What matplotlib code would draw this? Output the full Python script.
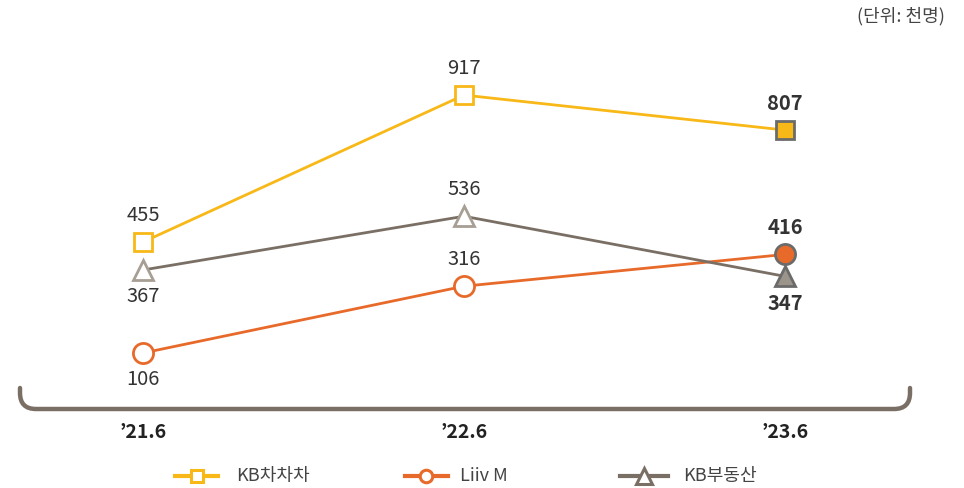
import matplotlib
matplotlib.use("Agg")
import matplotlib.pyplot as plt
from matplotlib.lines import Line2D
from matplotlib.path import Path
from matplotlib.patches import PathPatch

plt.rcParams['font.family'] = ['Noto Sans CJK KR', 'DejaVu Sans']

periods = ["’21.6", "’22.6", "’23.6"]
names = ["KB차차차", "Liiv M", "KB부동산"]
kbchacha = [455, 917, 807]
liivm = [106, 316, 416]
kbland = [367, 536, 347]

YELLOW = "#f8b817"
ORANGE = "#e86a2a"
BROWN = "#7a6f65"
EDGE = "#6b6b6b"
TXT = "#333333"

W, H = 964, 488
fig = plt.figure(figsize=(W / 100, H / 100), dpi=100)
ax = fig.add_axes([0, 0, 1, 1])
ax.set_xlim(-143 / 321, (W - 143) / 321)
ax.set_ylim((386.7 - H) / 0.318, 386.7 / 0.318)
ax.axis("off")

x = list(range(len(periods)))

series = [
    (kbchacha, YELLOW, "s", 13, YELLOW, YELLOW, ["up", "up", "up"]),
    (liivm, ORANGE, "o", 14.5, ORANGE, ORANGE, ["down", "up", "up"]),
    (kbland, BROWN, "^", 15, "#a79e94", "#9b948b", ["down", "up", "down"]),
]

for vals, col, mk, ms, hollow_edge, last_fill, pos in series:
    ax.plot(x, vals, color=col, lw=2, zorder=2)
    ax.plot(x[:-1], vals[:-1], ls="none", marker=mk, ms=ms, mfc="white",
            mec=hollow_edge, mew=2, zorder=3)
    ax.plot(x[-1:], vals[-1:], ls="none", marker=mk, ms=ms, mfc=last_fill,
            mec=EDGE, mew=2, zorder=3)
    for i, v in enumerate(vals):
        off = 27 if pos[i] == "up" else -27
        ax.annotate(str(v), (x[i], v), xytext=(0, off * 0.72), textcoords="offset points",
                    ha="center", va="center", fontsize=14.5, color=TXT,
                    fontweight="bold" if i == len(vals) - 1 else "normal")

# bracket axis
def fx(px):
    return px / W

def fy(py):
    return 1 - py / H

lx, rx, top, bot, r = 20, 910, 388, 409, 16
verts = [(lx, top), (lx, bot - r), (lx, bot), (lx + r, bot), (rx - r, bot),
         (rx, bot), (rx, bot - r), (rx, top)]
codes = [Path.MOVETO, Path.LINETO, Path.CURVE3, Path.CURVE3, Path.LINETO,
         Path.CURVE3, Path.CURVE3, Path.LINETO]
verts = [(fx(a), fy(b)) for a, b in verts]
fig.add_artist(PathPatch(Path(verts, codes), fill=False, ec=BROWN, lw=3.2,
                         transform=fig.transFigure, capstyle="round"))

for i, p in enumerate(periods):
    ax.text(x[i], (386.7 - 433) / 0.318, p, ha="center", va="center",
            fontsize=14, fontweight="bold", color="#222222")

# legend
leg = [
    (175, 218, 197, 236, YELLOW, "s", 8, YELLOW),
    (405, 448, 426, 460, ORANGE, "o", 9, ORANGE),
    (620, 668, 644, 683, BROWN, "^", 11, BROWN),
]
for (x0, x1, xm, xt, col, mk, ms, mec), name in zip(leg, names):
    fig.add_artist(Line2D([fx(x0), fx(x1)], [fy(476), fy(476)], color=col, lw=3,
                          transform=fig.transFigure))
    fig.add_artist(Line2D([fx(xm)], [fy(476)], marker=mk, ms=ms, mfc="white",
                          mec=mec, mew=2.2, transform=fig.transFigure))
    fig.text(fx(xt), fy(476), name, ha="left", va="center", fontsize=13,
             color="#444444")

fig.text(fx(945), fy(16), "(단위: 천명)", ha="right", va="center", fontsize=13,
         color="#444444")

fig.savefig("out.png", dpi=100)
